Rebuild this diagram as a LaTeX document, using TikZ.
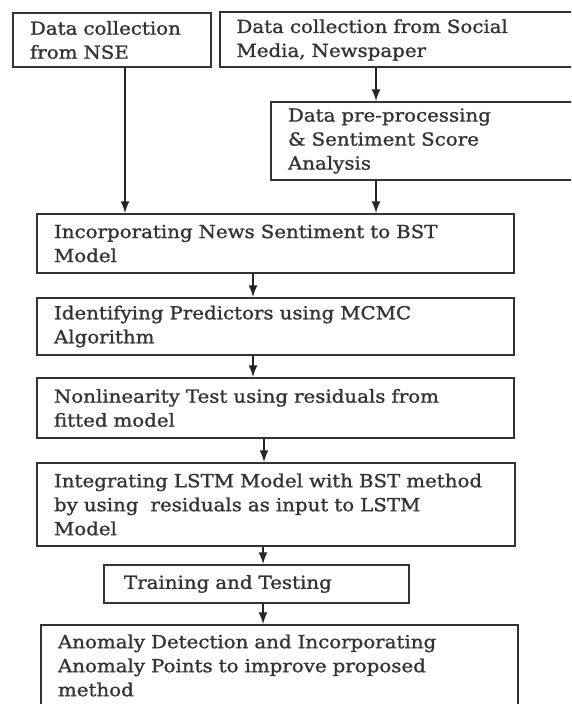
\documentclass[tikz,border=0pt]{standalone}
\usepackage{fontspec}
\setmainfont{DejaVu Serif}[FakeStretch=1.1, FakeBold=1.2]
\usepackage{tikz}
\usetikzlibrary{arrows}

\begin{document}
\begin{tikzpicture}[x=0.5pt, y=-0.5pt,
    procbox/.style={draw=black!80, line width=1pt, align=left, inner xsep=8.5pt, inner ysep=0pt,
      text=black!80, font=\fontsize{9}{12}\selectfont},
    arr/.style={-latex, line width=1pt, color=black!85}]
    \useasboundingbox (0,0) rectangle (571,704);
    \clip (0,0) rectangle (571,704);
    \node[procbox, text width=82pt, minimum height=27pt] (nse) at (112,40) {Data collection\\from NSE};
    \node[procbox, text width=166pt, minimum height=27.5pt] (social) at (402.5,40) {Data collection from Social\\Media, Newspaper};
    \node[procbox, text width=140pt, minimum height=39pt] (prep) at (428,141) {Data pre-processing\\\& Sentiment Score\\Analysis};
    \node[procbox, text width=221.5pt, minimum height=29.5pt] (bst) at (275.5,243.5) {Incorporating News Sentiment to BST\\Model};
    \node[procbox, text width=221.5pt, minimum height=28.5pt] (mcmc) at (275.5,326.5) {Identifying Predictors using MCMC\\Algorithm};
    \node[procbox, text width=221.5pt, minimum height=30pt] (nonlin) at (275.5,408) {Nonlinearity Test using residuals from\\fitted model};
    \node[procbox, text width=222pt, minimum height=41.5pt] (lstm) at (276,504.5) {Integrating LSTM Model with BST method\\by using \ residuals as input to LSTM\\Model};
    \node[procbox, text width=132.5pt, minimum height=19pt, inner xsep=10pt] (train) at (256.5,584) {Training and Testing};
    \node[procbox, text width=221.5pt, minimum height=40.5pt] (anom) at (279.5,665.5) {Anomaly Detection and Incorporating\\Anomaly Points to improve proposed\\method};
    \draw[arr] ([xshift=6.5pt]nse.south) -- ([xshift=6.5pt]nse.south |- bst.north);
    \draw[arr] ([xshift=-13.25pt]social.south) -- ([xshift=-13.25pt]social.south |- prep.north);
    \draw[arr] ([xshift=-26pt]prep.south) -- ([xshift=-26pt]prep.south |- bst.north);
    \foreach \a/\b/\s in {bst/mcmc/-11.25pt, mcmc/nonlin/-11.25pt, nonlin/lstm/-5.75pt, lstm/train/-6.5pt, train/anom/3.25pt}
    \draw[arr] ([xshift=\s]\a.south) -- ([xshift=\s]\a.south |- \b.north);
\end{tikzpicture}
\end{document}
